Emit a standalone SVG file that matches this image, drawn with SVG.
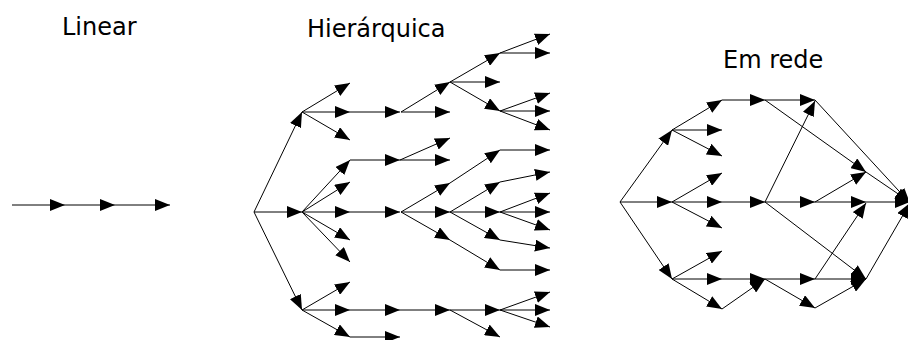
<svg xmlns="http://www.w3.org/2000/svg" width="908" height="340" viewBox="0 0 908 340">
  <style>
    .lbl { font-family: "DejaVu Sans", Verdana, sans-serif; font-size: 24px; fill: #000; }
    .e { fill: none; stroke: #000; stroke-width: 1; marker-end: url(#ah); }
  </style>
  <defs>
    <marker id="ah" markerUnits="userSpaceOnUse" markerWidth="16" markerHeight="12" refX="15" refY="6" orient="auto">
      <path d="M0,0 L15,6 L0,12 z" fill="#000"/>
    </marker>
  </defs>
  <rect width="908" height="340" fill="#fff"/>

  <!-- titles -->
  <g id="titles">
    <text class="lbl" x="62" y="35">Linear</text>
    <text class="lbl" x="307" y="37">Hierárquica</text>
    <text class="lbl" x="723" y="68">Em rede</text>
  </g>

  <!-- linear chain -->
  <g id="linear">
    <path class="e" d="M12,205 L65,205"/>
    <path class="e" d="M65,205 L115,205"/>
    <path class="e" d="M115,205 L170,205"/>
  </g>

  <!-- hierarchical tree -->
  <g id="hierarquica">
    <path class="e" d="M254,212 L302,112"/>
    <path class="e" d="M254,212 L302,212"/>
    <path class="e" d="M254,212 L302,310"/>

    <path class="e" d="M302,112 L350,83"/>
    <path class="e" d="M302,112 L350,112"/>
    <path class="e" d="M302,112 L350,140"/>
    <path class="e" d="M350,112 L400,112"/>
    <path class="e" d="M401,112 L450,82"/>
    <path class="e" d="M401,112 L450,112"/>
    <path class="e" d="M450,82 L500,53"/>
    <path class="e" d="M450,82 L500,82"/>
    <path class="e" d="M450,82 L500,111"/>
    <path class="e" d="M500,53 L550,34"/>
    <path class="e" d="M500,53 L550,53"/>
    <path class="e" d="M500,111 L550,93"/>
    <path class="e" d="M500,111 L550,111"/>
    <path class="e" d="M500,111 L550,130"/>

    <path class="e" d="M302,212 L350,160"/>
    <path class="e" d="M302,212 L350,182"/>
    <path class="e" d="M302,212 L350,212"/>
    <path class="e" d="M302,212 L350,240"/>
    <path class="e" d="M302,212 L350,262"/>
    <path class="e" d="M350,160 L400,160"/>
    <path class="e" d="M400,160 L450,138"/>
    <path class="e" d="M400,160 L450,160"/>
    <path class="e" d="M350,212 L400,212"/>
    <path class="e" d="M401,212 L450,183"/>
    <path class="e" d="M401,212 L450,212"/>
    <path class="e" d="M401,212 L450,240"/>
    <path class="e" d="M450,183 L500,150"/>
    <path class="e" d="M500,150 L550,150"/>
    <path class="e" d="M450,212 L500,182"/>
    <path class="e" d="M500,182 L550,172"/>
    <path class="e" d="M450,212 L500,212"/>
    <path class="e" d="M450,212 L500,240"/>
    <path class="e" d="M500,240 L550,248"/>
    <path class="e" d="M500,212 L550,193"/>
    <path class="e" d="M500,212 L550,212"/>
    <path class="e" d="M500,212 L550,230"/>
    <path class="e" d="M450,240 L500,270"/>
    <path class="e" d="M500,270 L550,270"/>

    <path class="e" d="M302,310 L350,282"/>
    <path class="e" d="M302,310 L350,310"/>
    <path class="e" d="M302,310 L350,337"/>
    <path class="e" d="M350,310 L400,310"/>
    <path class="e" d="M350,337 L400,337"/>
    <path class="e" d="M400,310 L450,310"/>
    <path class="e" d="M450,310 L500,310"/>
    <path class="e" d="M450,310 L500,337"/>
    <path class="e" d="M500,310 L550,292"/>
    <path class="e" d="M500,310 L550,310"/>
    <path class="e" d="M500,310 L550,327"/>
  </g>

  <!-- network -->
  <g id="rede">
    <path class="e" d="M620,202 L672,130"/>
    <path class="e" d="M620,202 L672,202"/>
    <path class="e" d="M620,202 L672,279"/>

    <path class="e" d="M672,130 L722,100"/>
    <path class="e" d="M672,130 L722,130"/>
    <path class="e" d="M672,130 L722,156"/>
    <path class="e" d="M722,100 L765,100"/>
    <path class="e" d="M765,100 L815,100"/>
    <path class="e" d="M765,100 L866,172"/>
    <path class="e" d="M815,100 L910,203"/>

    <path class="e" d="M672,202 L722,173"/>
    <path class="e" d="M672,202 L722,202"/>
    <path class="e" d="M672,202 L722,228"/>
    <path class="e" d="M722,202 L765,202"/>
    <path class="e" d="M765,202 L815,101"/>
    <path class="e" d="M765,202 L815,202"/>
    <path class="e" d="M765,202 L866,279"/>
    <path class="e" d="M815,202 L866,172"/>
    <path class="e" d="M815,202 L866,202"/>
    <path class="e" d="M866,172 L910,202"/>
    <path class="e" d="M866,202 L910,202"/>

    <path class="e" d="M672,279 L722,251"/>
    <path class="e" d="M672,279 L722,279"/>
    <path class="e" d="M672,279 L722,309"/>
    <path class="e" d="M722,279 L765,279"/>
    <path class="e" d="M722,309 L765,279"/>
    <path class="e" d="M765,279 L815,279"/>
    <path class="e" d="M765,279 L815,308"/>
    <path class="e" d="M815,279 L866,203"/>
    <path class="e" d="M815,279 L866,279"/>
    <path class="e" d="M815,308 L866,279"/>
    <path class="e" d="M866,279 L910,203"/>
  </g>
</svg>
